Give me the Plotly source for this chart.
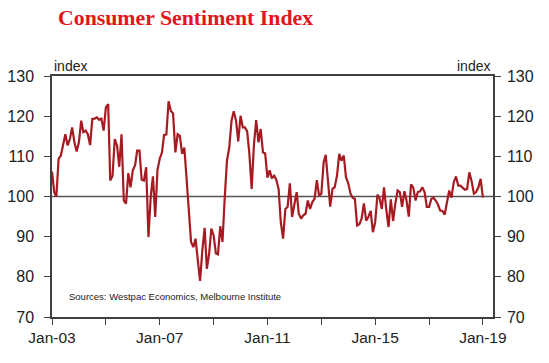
import pandas as pd
import plotly.graph_objects as go

# Monthly Consumer Sentiment Index, Jan-2003 .. Jan-2019
start_month = "2003-01-01"
sentiment = [
    106.2, 101.0, 100.0, 109.4, 110.2, 113.0, 115.5, 112.7, 114.3, 117.2, 113.5, 111.2,
    113.5, 118.9, 116.0, 116.4, 115.5, 112.8, 119.3, 119.4, 119.7, 119.1, 119.4, 116.4,
    122.2, 123.0, 104.0, 105.2, 114.3, 112.7, 107.4, 115.5, 99.0, 98.2, 105.8, 102.3,
    106.5, 107.8, 111.4, 111.4, 104.2, 104.0, 107.3, 89.9, 100.0, 105.0, 94.9, 106.5,
    109.4, 111.0, 115.3, 115.4, 123.7, 121.3, 120.7, 111.0, 115.5, 115.1, 110.6, 112.2,
    104.0, 97.6, 88.7, 87.4, 89.5, 84.1, 79.0, 86.6, 92.2, 82.0, 85.8, 92.0,
    90.3, 85.8, 85.6, 92.6, 88.7, 99.8, 108.9, 112.2, 118.9, 121.2, 118.9, 113.7,
    120.1, 117.2, 117.2, 116.2, 110.6, 101.9, 112.7, 119.0, 113.5, 116.8, 111.0, 110.7,
    104.7, 106.5, 104.5, 105.2, 104.2, 101.9, 93.6, 89.5, 96.9, 97.4, 103.3, 94.9,
    98.2, 101.1, 95.7, 94.5, 95.3, 95.7, 99.0, 96.9, 98.6, 99.4, 104.1, 100.2,
    100.7, 108.5, 110.4, 104.4, 97.5, 101.9, 102.3, 105.2, 110.6, 108.9, 110.2, 104.8,
    103.3, 100.7, 99.7, 99.4, 92.8, 93.1, 94.5, 98.3, 94.0, 94.9, 96.4, 91.1,
    93.6, 100.5, 99.6, 96.9, 102.3, 96.7, 92.4, 99.3, 93.9, 98.2, 101.5, 101.1,
    97.4, 101.3, 99.0, 95.0, 103.0, 102.2, 99.0, 101.1, 101.3, 102.3, 101.1, 97.4,
    97.4, 99.4, 99.7, 99.0, 98.0, 96.5, 96.4, 95.5, 98.2, 101.5, 99.7, 103.5,
    105.0, 102.7, 102.7, 102.2, 101.7, 101.9, 106.0, 103.8, 100.7, 101.1, 102.3, 104.4,
    99.7,
]
dates = pd.date_range(start_month, periods=len(sentiment), freq="MS")

tick_dates = ["2003-01-01", "2005-01-01", "2007-01-01", "2009-01-01", "2011-01-01",
              "2013-01-01", "2015-01-01", "2017-01-01", "2019-01-01"]
tick_text = ["Jan-03", "", "Jan-07", "", "Jan-11", "", "Jan-15", "", "Jan-19"]
y_ticks = [70, 80, 90, 100, 110, 120, 130]

line_color = "#A61A22"
axis_color = "#404040"
font_family = "Liberation Sans, Arial, sans-serif"

fig = go.Figure()
fig.add_trace(go.Scatter(x=dates, y=sentiment, mode="lines",
                         line=dict(color=line_color, width=2.2),
                         showlegend=False, hoverinfo="skip"))
# invisible copy to carry the right-hand axis
fig.add_trace(go.Scatter(x=dates, y=sentiment, mode="lines", yaxis="y2",
                         line=dict(color="rgba(0,0,0,0)", width=0),
                         showlegend=False, hoverinfo="skip"))

fig.add_shape(type="line", xref="paper", yref="y", x0=0, x1=1, y0=100, y1=100,
              line=dict(color="#555555", width=1.3), layer="below")

fig.update_layout(
    width=549, height=363,
    margin=dict(l=52, r=56, t=76, b=46),
    paper_bgcolor="white", plot_bgcolor="white",
    font=dict(family=font_family, color="#222222"),
    xaxis=dict(
        type="date", range=["2003-01-01", "2019-05-18"],
        tickvals=tick_dates, ticktext=tick_text, automargin=False,
        ticks="outside", ticklen=6, tickwidth=1.2, tickcolor=axis_color,
        showline=True, linecolor=axis_color, linewidth=1.5, mirror=True,
        showgrid=False, zeroline=False, tickfont=dict(size=15.5, color="#222222"),
    ),
    yaxis=dict(
        range=[70, 130], tickvals=y_ticks, automargin=False,
        ticks="outside", ticklen=6, tickwidth=1.2, tickcolor=axis_color,
        showline=True, linecolor=axis_color, linewidth=1.5,
        showgrid=False, zeroline=False, tickfont=dict(size=16, color="#222222"),
        ticklabelstandoff=7,
    ),
    yaxis2=dict(
        range=[70, 130], tickvals=y_ticks, overlaying="y", side="right", anchor="x",
        automargin=False,
        ticks="outside", ticklen=6, tickwidth=1.2, tickcolor=axis_color,
        showline=True, linecolor=axis_color, linewidth=1.5,
        showgrid=False, zeroline=False, tickfont=dict(size=16, color="#222222"),
        ticklabelstandoff=3,
    ),
    annotations=[
        dict(text="<b>Consumer Sentiment Index</b>", xref="paper", yref="paper",
             x=0.009, y=1.24, xanchor="left", yanchor="middle", showarrow=False,
             font=dict(family="Liberation Serif, Times New Roman, serif", size=21.8,
                       color="#E3141B")),
        dict(text="index", xref="paper", yref="paper", x=0.0, y=1.0,
             xanchor="left", yanchor="bottom", showarrow=False,
             font=dict(size=14, color="#222222")),
        dict(text="index", xref="paper", yref="paper", x=0.997, y=1.0,
             xanchor="right", yanchor="bottom", showarrow=False,
             font=dict(size=14, color="#222222")),
        dict(text="Sources: Westpac Economics, Melbourne Institute", xref="paper",
             yref="paper", x=0.034, y=0.085, xanchor="left", yanchor="middle",
             showarrow=False, font=dict(size=9.5, color="#222222")),
    ],
)

fig.write_html("out.html", config={"displayModeBar": False},
               post_script="document.body.style.margin='0';")
